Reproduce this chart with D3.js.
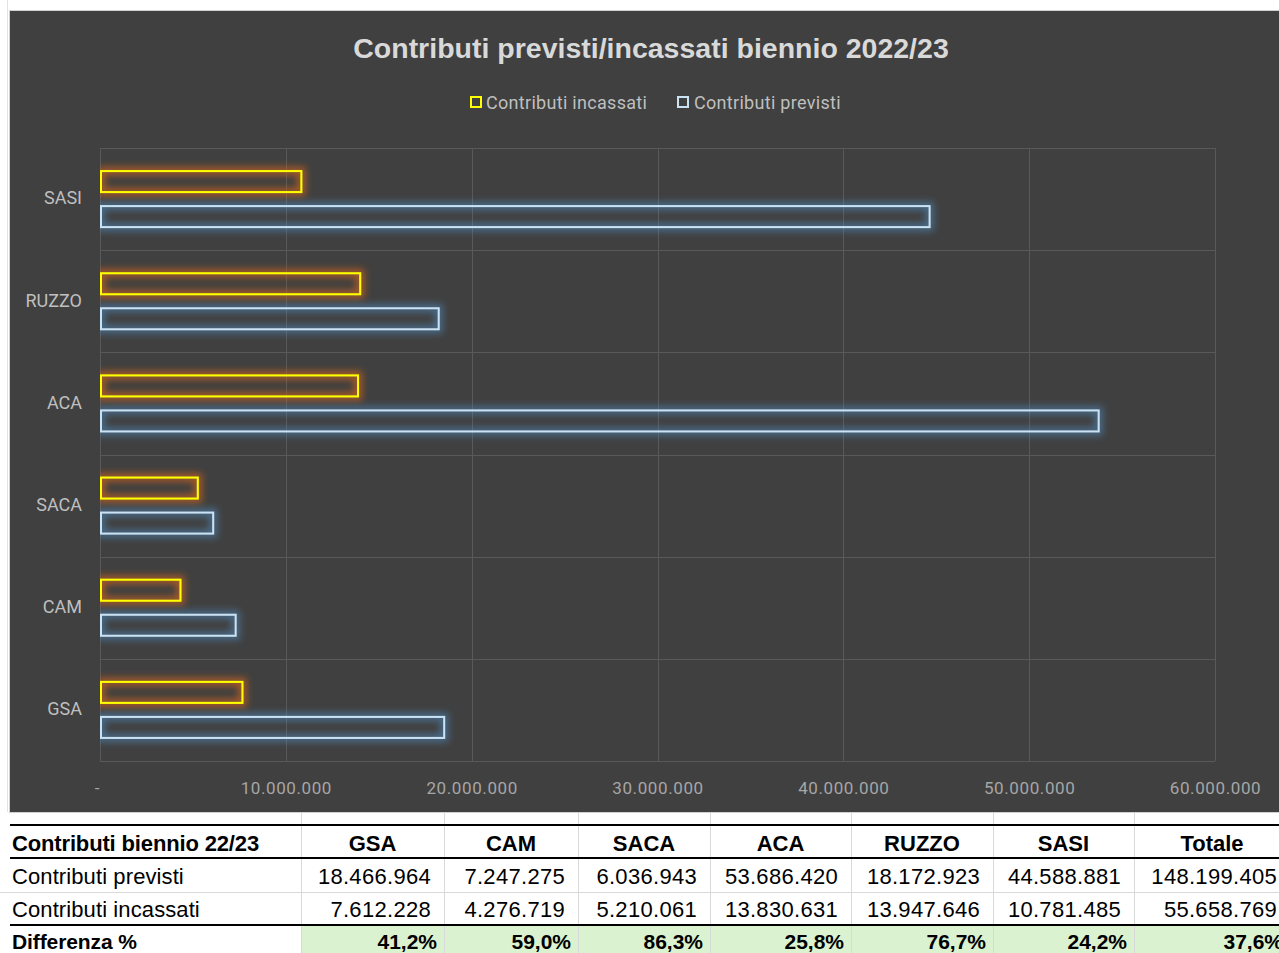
<!DOCTYPE html>
<html><head><meta charset="utf-8">
<script src="https://cdn.jsdelivr.net/npm/d3@7"></script>
<style>
html,body{margin:0;padding:0;background:#fff;}
svg{display:block;font-family:"Liberation Sans",Arial,sans-serif;}
</style></head>
<body>
<svg id="c" width="1279" height="953"></svg>
<script>
// ---- data ----
const categories = ["GSA","CAM","SACA","ACA","RUZZO","SASI"];
const previsti   = [18466964, 7247275, 6036943, 53686420, 18172923, 44588881];
const incassati  = [7612228, 4276719, 5210061, 13830631, 13947646, 10781485];
const totalPrevisti = 148199405;
const totalIncassati = 55658769;
const seriesNames = ["Contributi incassati","Contributi previsti"];
const xTicks = [0,10000000,20000000,30000000,40000000,50000000,60000000];
const title = "Contributi previsti/incassati biennio 2022/23";
const tableHeader = "Contributi biennio 22/23";
const rowLabels = ["Contributi previsti","Contributi incassati","Differenza %"];

const loc = d3.formatLocale({decimal:",",thousands:".",grouping:[3],currency:["€",""]});
const fmtN = loc.format(",.0f");
const fmtP = loc.format(".1%");

const svg = d3.select("#c");

// page spreadsheet gridline at left
svg.append("line").attr("x1",7.5).attr("x2",7.5).attr("y1",0).attr("y2",812).attr("stroke","#e3e3e3");

// chart area
svg.append("rect").attr("x",9.5).attr("y",10.5).attr("width",1275).attr("height",802)
  .attr("fill","#404040").attr("stroke","#d0d0d0").attr("stroke-width",1);

const defs = svg.append("defs");
function glow(id,color,op){
  const f = defs.append("filter").attr("id",id).attr("x","-20%").attr("y","-100%").attr("width","140%").attr("height","300%");
  f.append("feMorphology").attr("in","SourceAlpha").attr("operator","dilate").attr("radius",3).attr("result","d");
  f.append("feGaussianBlur").attr("in","d").attr("stdDeviation",3.5).attr("result","b");
  f.append("feFlood").attr("flood-color",color).attr("flood-opacity",op).attr("result","c");
  f.append("feComposite").attr("in","c").attr("in2","b").attr("operator","in").attr("result","g");
  const m = f.append("feMerge");
  m.append("feMergeNode").attr("in","g");
  m.append("feMergeNode").attr("in","SourceGraphic");
}
glow("gY","#D8641A",0.7);
glow("gB","#4F90C8",0.55);
defs.append("clipPath").attr("id","clipP").append("rect").attr("x",100).attr("y",140).attr("width",1179).attr("height",630);

const x = d3.scaleLinear().domain([0,60000000]).range([100,1215]);
const y0 = d3.scaleBand().domain(categories.slice().reverse()).range([148,761]);
const y1 = d3.scaleBand().domain(["inc","prev"]).range([0,y0.bandwidth()]).paddingInner(0.343).paddingOuter(0.63);

// gridlines
const g = svg.append("g");
g.selectAll("line.v").data(xTicks).join("line")
  .attr("x1",d=>Math.round(x(d))+0.5).attr("x2",d=>Math.round(x(d))+0.5)
  .attr("y1",148).attr("y2",761).attr("stroke","#595959").attr("stroke-width",1);
const bounds = categories.map(c=>y0(c)).concat([148,761]);
g.selectAll("line.h").data(bounds).join("line")
  .attr("x1",100).attr("x2",1215)
  .attr("y1",d=>Math.round(d)+0.5).attr("y2",d=>Math.round(d)+0.5)
  .attr("stroke","#595959").attr("stroke-width",1);

// bars
const bars = svg.append("g").attr("clip-path","url(#clipP)");
const data = categories.map((c,i)=>({c, inc:incassati[i], prev:previsti[i]}));
bars.selectAll("rect.inc").data(data).join("rect")
  .attr("x",x(0)+1).attr("y",d=>y0(d.c)+y1("inc")+1)
  .attr("width",d=>x(d.inc)-x(0)).attr("height",y1.bandwidth()-2)
  .attr("fill","none").attr("stroke","#FFFF00").attr("stroke-width",2).attr("filter","url(#gY)");
bars.selectAll("rect.prev").data(data).join("rect")
  .attr("x",x(0)+1).attr("y",d=>y0(d.c)+y1("prev")+1)
  .attr("width",d=>x(d.prev)-x(0)).attr("height",y1.bandwidth()-2)
  .attr("fill","none").attr("stroke","#C9E3F5").attr("stroke-width",2).attr("filter","url(#gB)");

// axes
const xa = svg.append("g").attr("transform","translate(0,788)")
  .call(d3.axisBottom(x).tickValues(xTicks).tickSize(0).tickPadding(0).tickFormat(d=>d===0?"-":fmtN(d)));
xa.select(".domain").remove();
xa.selectAll("text").attr("fill","#A6A6A6").attr("font-size",17).attr("dy","0.35em")
  .attr("font-family","Roboto, 'Liberation Sans', sans-serif").attr("letter-spacing","0.6");
xa.selectAll("text").filter(d=>d===0).attr("dx",-3);

const ya = svg.append("g").attr("transform","translate(82,0)")
  .call(d3.axisLeft(y0).tickSize(0).tickPadding(0));
ya.select(".domain").remove();
ya.selectAll("text").attr("fill","#BFBFBF").attr("font-size",18).attr("dy","0.3em")
  .attr("font-family","Roboto, 'Liberation Sans', sans-serif");

// title
svg.append("text").attr("x",651).attr("y",58).attr("text-anchor","middle")
  .attr("fill","#D9D9D9").attr("font-size",28.5).attr("font-weight","bold").text(title);

// legend
const lg = svg.append("g");
const legX = [470, 677];
const legTx = [486, 694];
const legCol = ["#FFFF00","#C9E3F5"];
seriesNames.forEach((s,i)=>{
  lg.append("rect").attr("x",legX[i]+1).attr("y",97).attr("width",10).attr("height",10)
    .attr("fill","none").attr("stroke",legCol[i]).attr("stroke-width",2);
  lg.append("text").attr("x",legTx[i]).attr("y",109).attr("fill","#BFBFBF").attr("font-size",18)
    .attr("letter-spacing","0.3")
    .attr("font-family","Roboto, 'Liberation Sans', sans-serif").text(s);
});

// ---- table ----
const colEdges = [10,301,444,578,710,851,993,1134,1290];
const rowBase = [851,884,917,949];
const t = svg.append("g");
// green fill
t.append("rect").attr("x",301).attr("y",925).attr("width",990).attr("height",28).attr("fill","#DAF2D0");
// vertical grid
colEdges.slice(1,-1).forEach(cx=>{
  t.append("line").attr("x1",cx+0.5).attr("x2",cx+0.5).attr("y1",813).attr("y2",953).attr("stroke","#D9D9D9");
});
t.append("line").attr("x1",0).attr("x2",1279).attr("y1",892.5).attr("y2",892.5).attr("stroke","#D9D9D9");
[825,858,925].forEach(yy=>{
  t.append("line").attr("x1",10).attr("x2",1279).attr("y1",yy).attr("y2",yy).attr("stroke","#000").attr("stroke-width",2);
});
const tf = "'Liberation Sans', Arial, sans-serif";
t.append("text").attr("x",12).attr("y",rowBase[0]).attr("font-size",22).attr("font-weight","bold").attr("letter-spacing","-0.15").attr("font-family",tf).text(tableHeader);
rowLabels.forEach((r,i)=>{
  t.append("text").attr("x",12).attr("y",rowBase[i+1]).attr("font-size",i===2?21:22)
    .attr("font-weight",i===2?"bold":"normal").attr("letter-spacing",i===2?"-0.1":"0.1").attr("font-family",tf).text(r);
});
const headers = categories.concat(["Totale"]);
const prevRow = previsti.concat([totalPrevisti]);
const incRow = incassati.concat([totalIncassati]);
headers.forEach((h,i)=>{
  const l = colEdges[i+1], r = colEdges[i+2];
  t.append("text").attr("x",(l+r)/2).attr("y",rowBase[0]).attr("text-anchor","middle")
    .attr("font-size",22).attr("font-weight","bold").attr("font-family",tf).text(h);
  t.append("text").attr("x",r-13).attr("y",rowBase[1]).attr("text-anchor","end")
    .attr("font-size",22).attr("letter-spacing","0.3").attr("font-family",tf).text(fmtN(prevRow[i]));
  t.append("text").attr("x",r-13).attr("y",rowBase[2]).attr("text-anchor","end")
    .attr("font-size",22).attr("letter-spacing","0.3").attr("font-family",tf).text(fmtN(incRow[i]));
  t.append("text").attr("x",r-7).attr("y",rowBase[3]).attr("text-anchor","end")
    .attr("font-size",21).attr("font-weight","bold").attr("font-family",tf).text(fmtP(incRow[i]/prevRow[i]));
});
</script>
</body></html>
